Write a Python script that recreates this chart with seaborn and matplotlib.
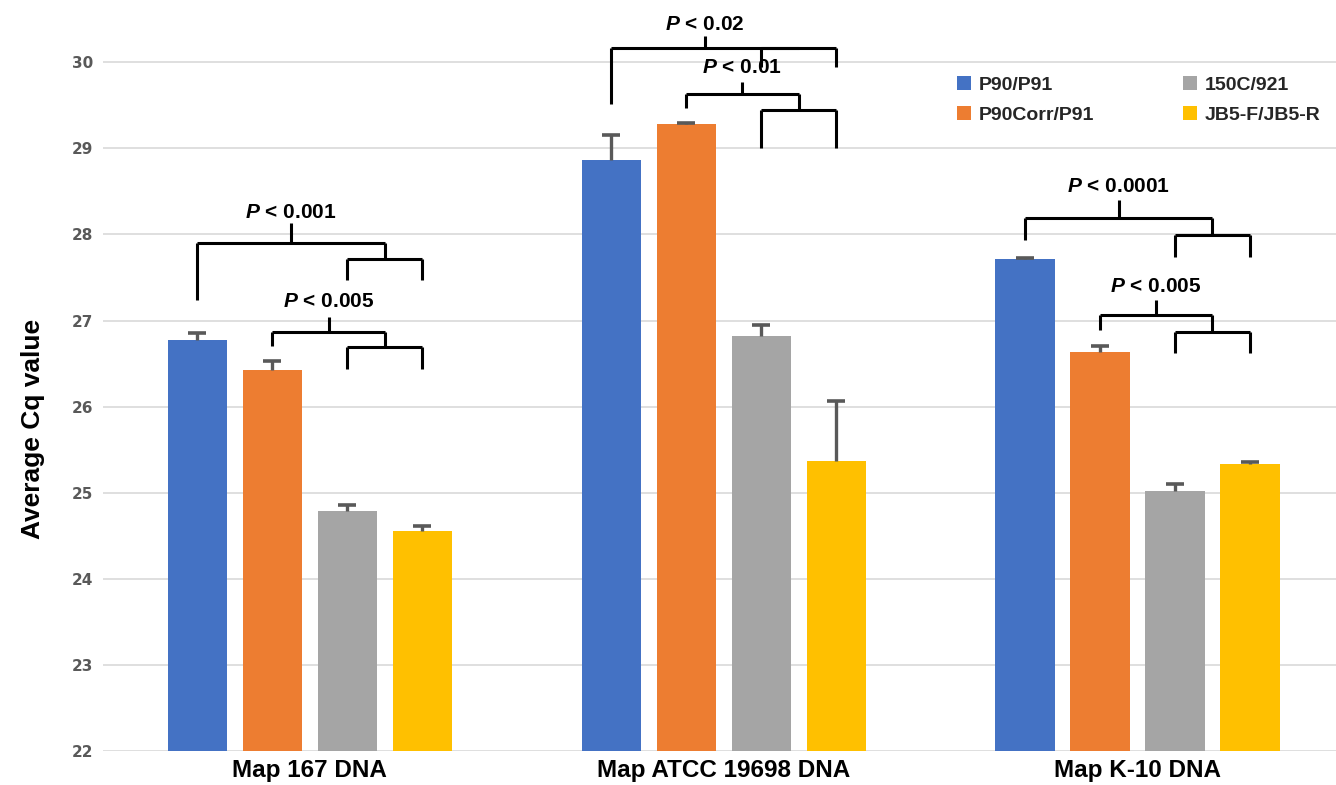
import matplotlib
matplotlib.use("Agg")
import matplotlib.pyplot as plt
from matplotlib.patches import Patch
import numpy as np
import pandas as pd
import seaborn as sns

# ---------------- data ----------------
samples = ["Map 167 DNA", "Map ATCC 19698 DNA", "Map K-10 DNA"]
primers = ["P90/P91", "P90Corr/P91", "150C/921", "JB5-F/JB5-R"]
colors = ["#4472C4", "#ED7D31", "#A5A5A5", "#FFC000"]

cq_p90 = [26.77, 28.87, 27.71]
cq_p90corr = [26.42, 29.28, 26.63]
cq_150c = [24.79, 26.82, 25.02]
cq_jb5 = [24.56, 25.37, 25.33]

err_p90 = [0.09, 0.29, 0.015]
err_p90corr = [0.11, 0.015, 0.08]
err_150c = [0.07, 0.13, 0.08]
err_jb5 = [0.05, 0.70, 0.03]

y_ticks = [22, 23, 24, 25, 26, 27, 28, 29, 30]

# significance annotations: (sample index, label, left primer, pair of right primers,
#  horizontal level, left foot, sub level, sub foot, tick top, text y)
brackets = [
    (0, "0.001", 0, (2, 3), 27.90, 27.24, 27.71, 27.47, 28.13, 28.26),
    (0, "0.005", 1, (2, 3), 26.87, 26.71, 26.69, 26.44, 27.04, 27.22),
    (1, "0.02", 0, (2, 3), 30.17, 29.52, 30.17, 29.94, 30.31, 30.44),
    (1, "0.01", 1, (2, 3), 29.63, 29.47, 29.45, 29.00, 29.77, 29.94),
    (2, "0.0001", 0, (2, 3), 28.19, 27.93, 27.99, 27.74, 28.40, 28.56),
    (2, "0.005", 1, (2, 3), 27.06, 26.89, 26.87, 26.62, 27.24, 27.40),
]

all_cq = [cq_p90, cq_p90corr, cq_150c, cq_jb5]
all_err = [err_p90, err_p90corr, err_150c, err_jb5]

df = pd.DataFrame({
    "sample": [s for p in primers for s in samples],
    "primer": [p for p in primers for s in samples],
    "cq": [v for arr in all_cq for v in arr],
})

# ---------------- figure ----------------
sns.set_theme(style="white")
plt.rcParams["font.family"] = ["Liberation Sans", "DejaVu Sans"]
plt.rcParams["mathtext.fontset"] = "custom"
plt.rcParams["mathtext.it"] = "Liberation Sans:italic:bold"
plt.rcParams["mathtext.rm"] = "Liberation Sans:bold"
plt.rcParams["mathtext.bf"] = "Liberation Sans:bold"

fig = plt.figure(figsize=(13.36, 7.85), dpi=100)
ax = fig.add_axes([103 / 1336, 34 / 785, 1233 / 1336, 749 / 785])

sns.barplot(data=df, x="sample", y="cq", hue="primer", order=samples,
            hue_order=primers, palette=colors, width=0.725, gap=0.21,
            errorbar=None, saturation=1, legend=False, ax=ax,
            edgecolor="none", zorder=2)

ax.set_ylim(22, 30.7)
ax.set_xlim(-0.5, 2.48)
ax.set_yticks(y_ticks)
ax.grid(axis="y", color="#D9D9D9", linewidth=1.2, zorder=0)
ax.set_axisbelow(True)
for s in ax.spines.values():
    s.set_visible(False)

ax.tick_params(axis="both", length=0)
ax.tick_params(axis="y", pad=7)
ax.tick_params(axis="x", pad=6)
for lab in ax.get_yticklabels():
    lab.set_fontfamily("DejaVu Sans")
    lab.set_fontweight("bold")
    lab.set_fontsize(11)
    lab.set_color("#595959")
for lab in ax.get_xticklabels():
    lab.set_fontweight("bold")
    lab.set_fontsize(17.5)
    lab.set_color("black")

ax.set_xlabel("")
ax.set_ylabel("Average Cq value", fontsize=19, fontweight="bold",
              family=["Liberation Sans Narrow", "Liberation Sans", "DejaVu Sans"],
              color="black")
ax.yaxis.set_label_coords(-0.047, 0.43)

# bar centres from the drawn bars
bar_containers = list(ax.containers)
centers = {}
for hi, cont in enumerate(bar_containers):
    centers[hi] = [p.get_x() + p.get_width() / 2 for p in cont.patches]
for hi in range(len(primers)):
    xs = centers[hi]
    eb = ax.errorbar(xs, all_cq[hi], yerr=[np.zeros(len(xs)), all_err[hi]],
                     fmt="none", ecolor="#595959", elinewidth=2.4, capsize=6.5,
                     capthick=2.6, zorder=3)
    caps = eb.lines[1]
    if len(caps) == 2:
        caps[0].set_visible(False)

# significance brackets
lw = 2.2
for (si, ptxt, left, (ra, rb), yh, yfoot, ysub, ysubfoot, ytick, ytext) in brackets:
    xl = centers[left][si]
    xa = centers[ra][si]
    xb = centers[rb][si]
    xm = (xa + xb) / 2
    kw = dict(color="black", lw=lw, solid_capstyle="butt", clip_on=False, zorder=4)
    ax.plot([xl, xm], [yh, yh], **kw)
    ax.plot([xl, xl], [yh, yfoot], **kw)
    if ysub < yh:
        ax.plot([xm, xm], [yh, ysub], **kw)
    ax.plot([xa, xb], [ysub, ysub], **kw)
    ax.plot([xa, xa], [ysub, ysubfoot], **kw)
    ax.plot([xb, xb], [ysub, ysubfoot], **kw)
    xc = (xl + xm) / 2
    ax.plot([xc, xc], [yh, ytick], **kw)
    ax.text(xc, ytext, r"$P$" + " < " + ptxt, ha="center", va="center",
            fontsize=15, fontweight="bold", color="black", clip_on=False, zorder=4)

# legend
handles = [Patch(facecolor=c, edgecolor="none", label=p) for c, p in zip(colors, primers)]
leg = fig.legend(handles=handles, loc="upper left", ncol=2,
                 bbox_to_anchor=(957 / 1336, 1 - 76 / 785), frameon=False,
                 prop={"weight": "bold", "size": 14}, handlelength=0.7,
                 handleheight=0.7, handletextpad=0.4, columnspacing=4.6,
                 labelspacing=0.65, borderpad=0, borderaxespad=0)

fig.savefig("out.png", dpi=100)
